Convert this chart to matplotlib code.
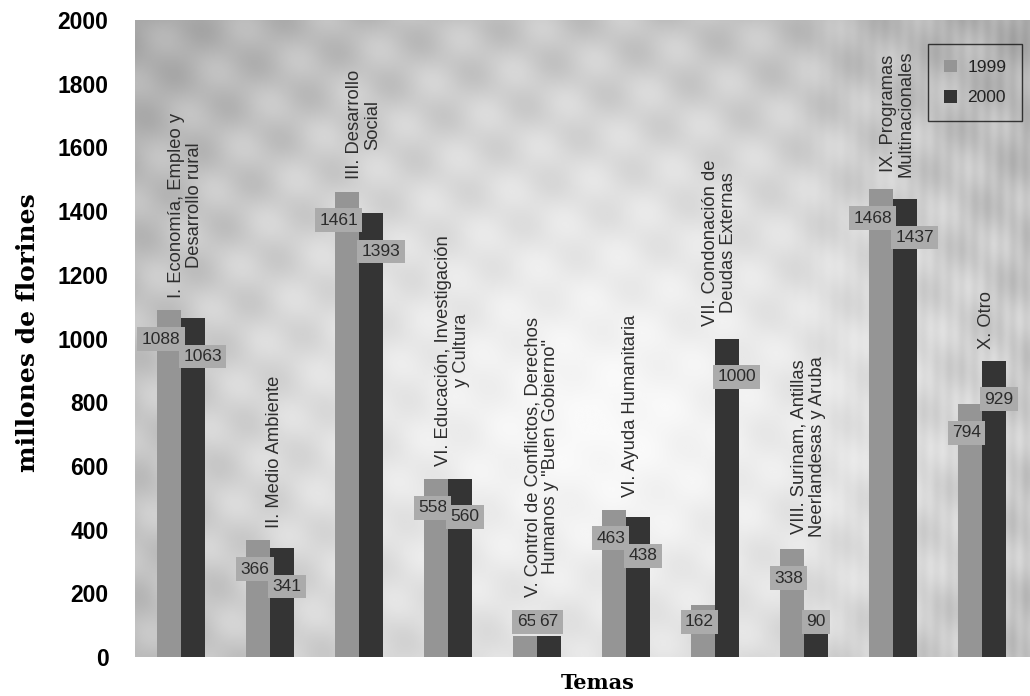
import numpy as np
import matplotlib
matplotlib.use("Agg")
import matplotlib.pyplot as plt
from matplotlib.patches import Patch

# Datos: cooperación por tema (millones de florines)
temas = [
    "I. Economía, Empleo y\nDesarrollo rural",
    "II. Medio Ambiente",
    "III. Desarrollo\nSocial",
    "VI. Educación, Investigación\ny Cultura",
    "V. Control de Conflictos, Derechos\nHumanos y \"Buen Gobierno\"",
    "VI. Ayuda Humanitaria",
    "VII. Condonación de\nDeudas Externas",
    "VIII. Surinam, Antillas\nNeerlandesas y Aruba",
    "IX. Programas\nMultinacionales",
    "X. Otro",
]
valores_1999 = [1088, 366, 1461, 558, 65, 463, 162, 338, 1468, 794]
valores_2000 = [1063, 341, 1393, 560, 67, 438, 1000, 90, 1437, 929]
anios = ["1999", "2000"]
yticks = [0, 200, 400, 600, 800, 1000, 1200, 1400, 1600, 1800, 2000]

W, H, DPI = 1030, 696, 100
fig = plt.figure(figsize=(W / DPI, H / DPI), dpi=DPI)
ax = fig.add_axes([135 / W, (H - 657) / H, 1 - 135 / W, (657 - 20) / H])

n = len(temas)
x = np.arange(n)
bw = 0.27
xlim = (-0.52, n - 1 + 0.54)
ylim = (0, 2000)
ax.set_xlim(*xlim)
ax.set_ylim(*ylim)

# Fondo gris moteado, más claro hacia el centro
ny, nx = 320, 480
yy, xx = np.mgrid[0:1:ny * 1j, 0:1:nx * 1j]
r = np.sqrt(((xx - 0.52) / 0.58) ** 2 + ((yy - 0.36) / 0.72) ** 2)
base = 0.98 - 0.24 * np.clip(r, 0, 1.4) ** 1.3
blot = 0.045 * np.sin(2 * np.pi * (xx * 10.5 + yy * 2.5)) * np.sin(2 * np.pi * (yy * 8.0 - xx * 1.5))
blot *= np.clip(r + 0.15, 0, 1)
streak = 0.022 * np.sin(2 * np.pi * xx * 70) * np.clip((xx - 0.72) * 3.5, 0, 1)
img = np.clip(base + blot + streak, 0.62, 0.98)
ax.imshow(img, cmap="gray", vmin=0, vmax=1, origin="lower", aspect="auto",
          extent=(xlim[0], xlim[1], ylim[0], ylim[1]), zorder=0,
          interpolation="bicubic")

c99, c00 = "#959595", "#343434"
ax.bar(x - bw / 2, valores_1999, bw, color=c99, zorder=2, edgecolor="none")
ax.bar(x + bw / 2, valores_2000, bw, color=c00, zorder=2, edgecolor="none")

# Etiquetas de valor en recuadros grises
box = dict(boxstyle="square,pad=0.25", fc="#ababab", ec="none")
for i in range(n):
    v1, v2 = valores_1999[i], valores_2000[i]
    ax.text(x[i] - 0.012, max(v1 - 90, 110), f"{v1}", ha="right", va="center",
            fontsize=12.5, color="#2b2b2b", family="Liberation Sans",
            bbox=box, zorder=4)
    ax.text(x[i] + 0.025, max(v2 - 120, 110), f"{v2}", ha="left", va="center",
            fontsize=12.5, color="#2b2b2b", family="Liberation Sans",
            bbox=box, zorder=4)
    top = max(v1, v2, 150)
    ax.annotate(temas[i], xy=(x[i] + 0.05, top), xytext=(0, 9),
                textcoords="offset points", rotation=90, ha="center",
                va="bottom", multialignment="center", fontsize=13.2,
                color="#2e2e2e", family="Liberation Sans", linespacing=1.08,
                zorder=4)

ax.set_yticks(yticks)
ax.set_yticklabels([str(t) for t in yticks], fontsize=16.5, fontweight="bold",
                   family="Liberation Sans")
ax.tick_params(axis="y", length=0, pad=19)
ax.set_xticks([])
for s in ax.spines.values():
    s.set_visible(False)

fig.text(28 / W, 1 - 333 / H, "millones de florines", rotation=90,
         ha="center", va="center", fontsize=18, fontweight="bold",
         family="DejaVu Serif")
fig.text(598 / W, 1 - 683 / H, "Temas", ha="center", va="center",
         fontsize=15, fontweight="bold", family="DejaVu Serif")

handles = [Patch(facecolor=c99, edgecolor="none"),
           Patch(facecolor=c00, edgecolor="none")]
leg = ax.legend(handles, anios, loc="upper right",
                bbox_to_anchor=(1022 / W, 1 - 44 / H),
                bbox_transform=fig.transFigure, borderaxespad=0,
                frameon=True, fancybox=False,
                handlelength=0.75, handleheight=0.75, handletextpad=0.6,
                labelspacing=0.85, borderpad=0.9,
                prop={"family": "Liberation Sans", "size": 12.5})
leg.get_frame().set_edgecolor("#111111")
leg.get_frame().set_linewidth(1.0)
leg.get_frame().set_facecolor("none")
for t in leg.get_texts():
    t.set_color("#222222")

fig.savefig("out.png", dpi=DPI)
